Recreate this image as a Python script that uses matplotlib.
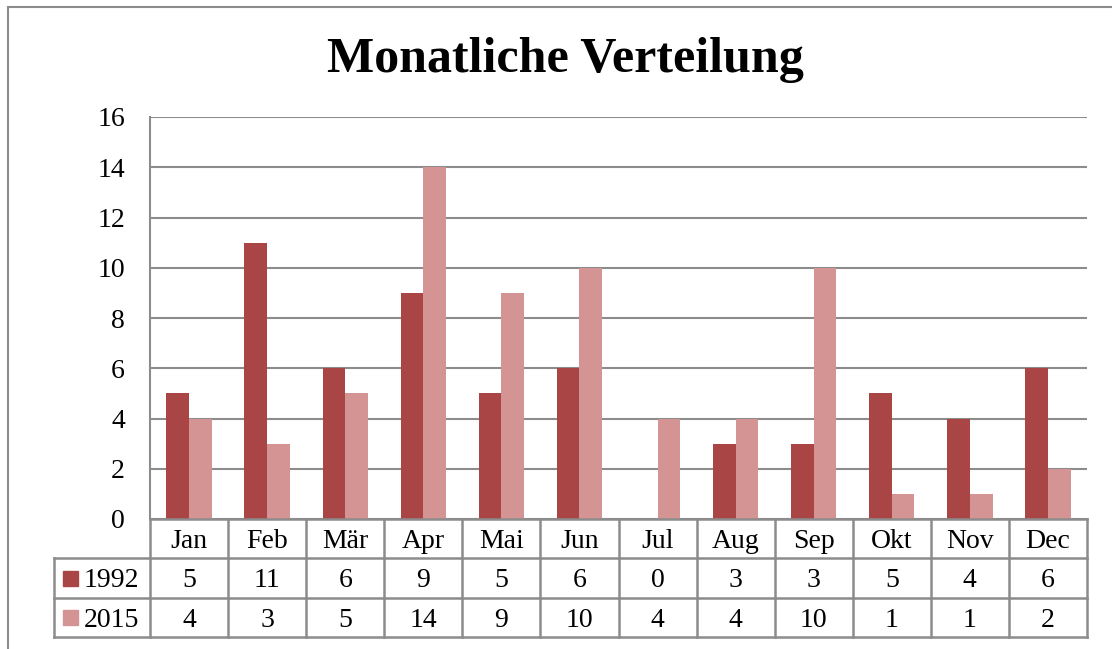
import numpy as np
import matplotlib.pyplot as plt
from matplotlib.patches import Rectangle
from matplotlib.lines import Line2D

months = ['Jan', 'Feb', 'Mär', 'Apr', 'Mai', 'Jun', 'Jul', 'Aug', 'Sep', 'Okt', 'Nov', 'Dec']
series_names = ['1992', '2015']
vals_1992 = [5, 11, 6, 9, 5, 6, 0, 3, 3, 5, 4, 6]
vals_2015 = [4, 3, 5, 14, 9, 10, 4, 4, 10, 1, 1, 2]
colors = ['#A94544', '#D49494']

W, H = 1112, 649
plt.rcParams['font.family'] = ['Liberation Serif', 'DejaVu Serif']
fig = plt.figure(figsize=(W / 100, H / 100), dpi=100)
fs = 20

def fx(px):
    return px / W

def fy(py):
    return 1 - py / H

# outer chart border
fig.patches.append(Rectangle((fx(8), fy(660)), fx(1200), fy(7) - fy(660),
                             transform=fig.transFigure, fill=False,
                             edgecolor='#8c8c8c', lw=1.5))

left, right, top, bottom = 150, 1087, 117, 519
ax = fig.add_axes([fx(left), fy(bottom), fx(right - left), fy(top) - fy(bottom)])

x = np.arange(len(months))
bw = 0.29
ax.bar(x - bw / 2, vals_1992, bw, color=colors[0], zorder=3)
ax.bar(x + bw / 2, vals_2015, bw, color=colors[1], zorder=3)

ax.set_xlim(-0.5, len(months) - 0.5)
ax.set_ylim(0, 16)
ax.set_yticks(range(0, 17, 2))
ax.yaxis.grid(True, color='#8c8c8c', lw=1.5, zorder=0)
ax.set_xticks([])
ax.tick_params(axis='y', length=0, pad=18, labelsize=fs)
for s in ['top', 'right', 'bottom']:
    ax.spines[s].set_visible(False)
ax.spines['left'].set_color('#8c8c8c')
ax.spines['left'].set_linewidth(1.5)

fig.text(fx(565), fy(60), 'Monatliche Verteilung', ha='center', va='center',
         fontsize=36, fontweight='bold')

# data table below the plot
row_h = 39.3
col_w = (right - left) / len(months)
y_rows = [bottom + i * row_h for i in range(4)]
lab_left = 54
lc = '#8c8c8c'

def hline(x0, x1, y):
    fig.add_artist(Line2D([fx(x0), fx(x1)], [fy(y), fy(y)], color=lc, lw=1.8,
                          transform=fig.transFigure))

def vline(x, y0, y1):
    fig.add_artist(Line2D([fx(x), fx(x)], [fy(y0), fy(y1)], color=lc, lw=1.8,
                          transform=fig.transFigure))

hline(left, right, y_rows[0])
for y in y_rows[1:]:
    hline(lab_left, right, y)
vline(lab_left, y_rows[1], y_rows[3])
for i in range(len(months) + 1):
    vline(left + i * col_w, y_rows[0], y_rows[3])

for i, m in enumerate(months):
    fig.text(fx(left + (i + 0.5) * col_w), fy(y_rows[0] + row_h / 2 + 3), m,
             ha='center', va='center', fontsize=fs)

for r, (name, vals) in enumerate(zip(series_names, [vals_1992, vals_2015])):
    yc = y_rows[r + 1] + row_h / 2
    fig.patches.append(Rectangle((fx(63), fy(yc + 8)), fx(15), fy(yc - 7) - fy(yc + 8),
                                 transform=fig.transFigure, color=colors[r]))
    fig.text(fx(84), fy(yc + 3), name, ha='left', va='center', fontsize=fs)
    for i, v in enumerate(vals):
        fig.text(fx(left + (i + 0.5) * col_w), fy(yc + 3), str(v),
                 ha='center', va='center', fontsize=fs)

fig.savefig('out.png', dpi=100)
